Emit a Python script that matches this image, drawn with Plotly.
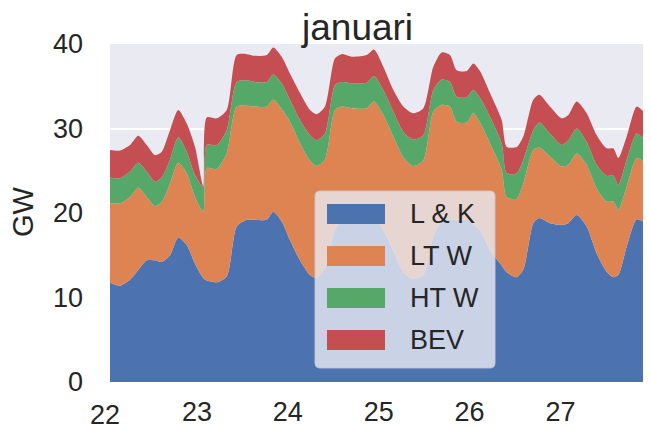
import plotly.graph_objects as go

# dag in januari (fractie van de dag)
dagen = [22.04, 22.154, 22.264, 22.355, 22.448, 22.539, 22.613, 22.704, 22.795, 22.888,
         22.979, 23.070, 23.108, 23.218, 23.328, 23.438, 23.548, 23.639, 23.768, 23.840,
         23.933, 24.024, 24.134, 24.244, 24.318, 24.409, 24.519, 24.593, 24.703, 24.868,
         24.948, 25.051, 25.161, 25.271, 25.381, 25.491, 25.601, 25.693, 25.784, 25.858,
         25.968, 26.041, 26.114, 26.224, 26.353, 26.408, 26.518, 26.591, 26.701, 26.767,
         26.884, 27.013, 27.086, 27.178, 27.288, 27.398, 27.508, 27.581, 27.636, 27.728,
         27.838, 27.911, 28.0]

lk = [11.75, 11.4, 12.1, 13.25, 14.4, 14.4, 14.2, 15.0, 17.1, 16.2,
      14.0, 12.3, 12.0, 11.8, 12.5, 18.4, 19.2, 19.2, 19.2, 20.15,
      19.0, 16.8, 14.4, 12.65, 12.3, 13.5, 18.0, 19.1, 19.0, 19.0,
      19.5, 18.0, 15.5, 13.0, 12.2, 12.7, 17.2, 19.0, 19.2, 19.2,
      19.2, 18.6, 18.0, 15.6, 13.8, 13.0, 12.4, 13.3, 18.8, 19.4,
      18.8, 18.6, 18.8, 19.75, 18.4, 15.2, 13.05, 12.4, 12.65, 16.0,
      19.25, 19.0, 18.8]

lt_w = [9.4, 9.75, 9.8, 9.75, 7.5, 6.4, 7.1, 8.5, 8.85, 8.5,
        7.9, 7.85, 13.3, 13.4, 14.6, 14.2, 13.5, 13.4, 13.4, 13.25,
        13.3, 14.0, 13.85, 13.55, 13.25, 12.85, 14.2, 13.5, 13.4, 13.4,
        13.7, 13.6, 13.55, 13.6, 13.35, 13.5, 14.8, 13.8, 13.4, 11.6,
        11.5, 13.2, 12.7, 12.65, 11.3, 8.9, 9.3, 10.2, 8.65, 8.35,
        7.9, 6.9, 6.9, 7.3, 7.3, 7.7, 8.3, 8.95, 7.7, 7.1,
        7.25, 7.1, 5.9]

ht_w = [3.05, 2.95, 3.0, 2.95, 3.0, 2.9, 2.9, 2.8, 3.0, 2.55,
        2.6, 2.95, 2.75, 2.85, 2.7, 2.9, 3.0, 2.9, 2.9, 3.0,
        3.05, 2.6, 2.75, 3.0, 3.05, 3.05, 2.95, 2.9, 2.95, 3.0,
        3.0, 2.95, 2.95, 3.0, 3.15, 3.0, 2.55, 3.0, 2.9, 2.95,
        3.0, 2.75, 2.95, 3.15, 3.15, 2.8, 3.0, 2.8, 2.35, 2.95,
        2.7, 2.55, 2.9, 2.95, 2.7, 2.8, 3.05, 3.05, 2.95, 3.2,
        2.9, 2.7, 2.75]

bev = [3.25, 3.3, 3.15, 3.2, 3.15, 3.15, 3.05, 3.5, 3.25, 3.35,
       3.35, 0.1, 3.25, 3.15, 2.4, 3.2, 3.1, 3.1, 3.2, 3.2,
       3.15, 3.1, 3.2, 3.0, 3.1, 3.2, 3.15, 3.3, 3.15, 3.3,
       3.15, 2.75, 2.55, 3.0, 3.1, 3.2, 2.75, 3.2, 3.2, 3.15,
       3.1, 3.15, 3.15, 2.8, 2.75, 3.15, 3.1, 2.75, 3.6, 3.3,
       3.2, 3.15, 3.0, 3.2, 3.4, 3.5, 3.25, 3.25, 3.2, 2.75,
       3.2, 3.2, 3.15]

namen = ['L & K', 'LT W', 'HT W', 'BEV']
kleuren = ['#4C72B0', '#DD8452', '#55A868', '#C44E52']
reeksen = [lk, lt_w, ht_w, bev]

FONT = 'Liberation Sans, Arial, sans-serif'
OFF = 8  # standaard body-marge van de pagina
W, H = 651 - 2 * OFF, 429 - OFF
L, R, T, B = 110 - OFF, 0, 44 - OFF, 429 - 382
PW, PH = W - L - R, H - T - B


# schermpixels (venster) -> paper-coordinaten
def px(x):
    return (x - OFF - L) / PW


def py(y):
    return (H + OFF - B - y) / PH


fig = go.Figure()
for naam, kleur, waarden in zip(namen, kleuren, reeksen):
    fig.add_trace(go.Scatter(
        x=dagen, y=waarden, name=naam, stackgroup='one',
        mode='lines', line=dict(width=0, shape='spline', smoothing=0.7),
        fillcolor=kleur, showlegend=False, hoverinfo='x+y'
    ))

# legenda in matplotlib-stijl (grote blokjes)
x0, x1, y0, y1 = px(315), px(495), py(368), py(191)
rx, ry = 5 / PW, 5 / PH
pad = (f'M {x0 + rx},{y0} L {x1 - rx},{y0} Q {x1},{y0} {x1},{y0 + ry} '
       f'L {x1},{y1 - ry} Q {x1},{y1} {x1 - rx},{y1} L {x0 + rx},{y1} '
       f'Q {x0},{y1} {x0},{y1 - ry} L {x0},{y0 + ry} Q {x0},{y0} {x0 + rx},{y0} Z')
shapes = [dict(type='path', path=pad, xref='paper', yref='paper', layer='above',
               fillcolor='rgba(234,234,242,0.8)', line=dict(color='rgba(200,200,205,0.9)', width=1))]
annotations = []
for i, (naam, kleur) in enumerate(zip(namen, kleuren)):
    yc = 214 + i * 42
    shapes.append(dict(type='rect', xref='paper', yref='paper', layer='above',
                       x0=px(327), x1=px(385), y0=py(yc + 10), y1=py(yc - 10),
                       fillcolor=kleur, line=dict(width=0)))
    annotations.append(dict(text=naam, xref='paper', yref='paper', x=px(408), y=py(yc),
                            xanchor='left', yanchor='middle', showarrow=False,
                            font=dict(size=27, color='#262626', family=FONT)))

annotations.append(dict(text='januari', xref='paper', yref='paper', x=px(357), y=py(27),
                        xanchor='center', yanchor='middle', showarrow=False,
                        font=dict(size=37, color='#262626', family=FONT)))
annotations.append(dict(text='GW', xref='paper', yref='paper', x=px(23), y=py(212),
                        xanchor='center', yanchor='middle', textangle=-90, showarrow=False,
                        font=dict(size=29, color='#262626', family=FONT)))
annotations.append(dict(text='22', xref='paper', yref='paper', x=px(105), y=py(415),
                        xanchor='center', yanchor='middle', showarrow=False,
                        font=dict(size=27, color='#262626', family=FONT)))

# zelfde schaal als het origineel (90.9 px per dag), rechterrand valt bij 643 px
x_eind = 22 + (643 - 106) / 90.9

fig.update_layout(
    width=W, height=H,
    margin=dict(l=L, r=R, t=T, b=B, autoexpand=False),
    paper_bgcolor='white',
    plot_bgcolor='#EAEAF2',
    font=dict(family=FONT, size=27, color='#262626'),
    shapes=shapes,
    annotations=annotations,
    xaxis=dict(range=[22.044, x_eind], tickvals=[23, 24, 25, 26, 27], showgrid=False,
               zeroline=False, showline=False, ticks='', ticklabelstandoff=11),
    yaxis=dict(range=[0, 40], tickvals=[0, 10, 20, 30, 40], showgrid=True,
               gridcolor='white', gridwidth=1.5, zeroline=False, showline=False,
               ticks='', ticklabelstandoff=26),
)

fig.write_html('out.html')
